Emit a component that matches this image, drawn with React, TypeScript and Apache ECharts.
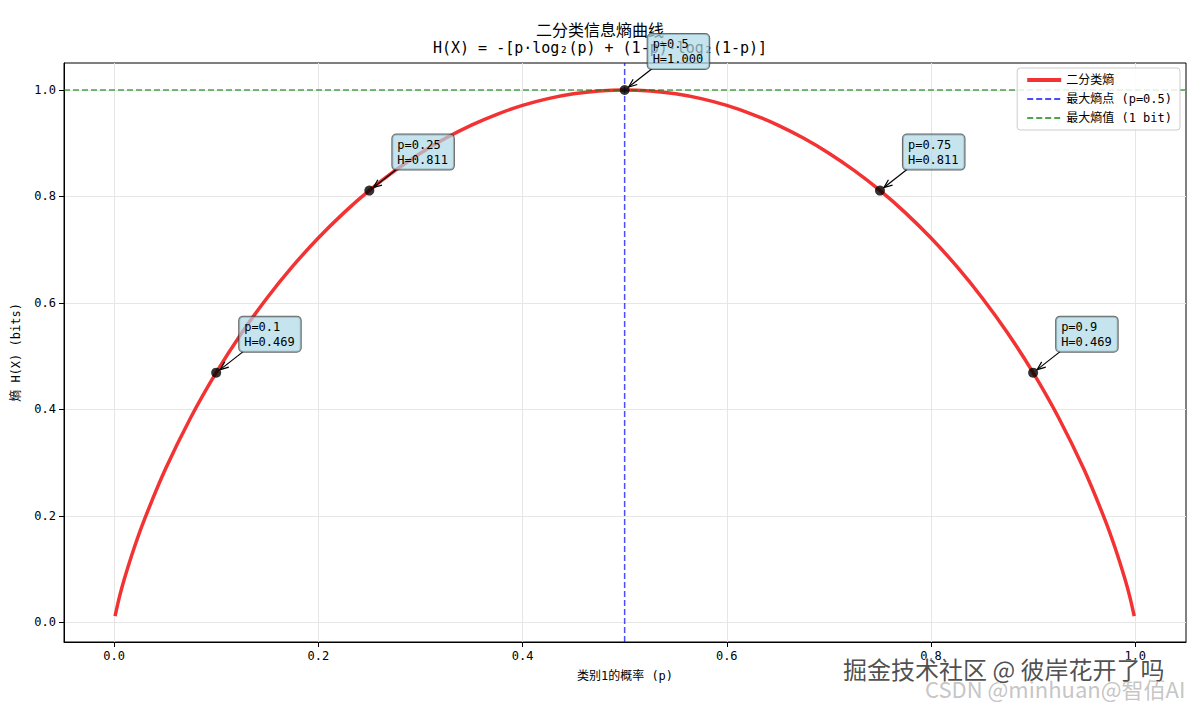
import React, { useEffect, useRef } from "react";
import * as echarts from "echarts";

// Binary entropy curve, values read/
const pValues = [
  0.001, 0.005, 0.01, 0.02, 0.03, 0.05, 0.075, 0.1, 0.125, 0.15, 0.175, 0.2, 0.225, 0.25,
  0.275, 0.3, 0.325, 0.35, 0.375, 0.4, 0.425, 0.45, 0.475, 0.5, 0.525, 0.55, 0.575, 0.6,
  0.625, 0.65, 0.675, 0.7, 0.725, 0.75, 0.775, 0.8, 0.825, 0.85, 0.875, 0.9, 0.925, 0.95,
  0.97, 0.98, 0.99, 0.995, 0.999,
];
const entropyValues = [
  0.0114, 0.0454, 0.0808, 0.1414, 0.1944, 0.2864, 0.3843, 0.469, 0.5436, 0.6098, 0.669,
  0.7219, 0.7692, 0.8113, 0.8485, 0.8813, 0.9097, 0.9341, 0.9544, 0.971, 0.9837, 0.9928,
  0.9982, 1.0, 0.9982, 0.9928, 0.9837, 0.971, 0.9544, 0.9341, 0.9097, 0.8813, 0.8485,
  0.8113, 0.7692, 0.7219, 0.669, 0.6098, 0.5436, 0.469, 0.3843, 0.2864, 0.1944, 0.1414,
  0.0808, 0.0454, 0.0114,
];

const markP = [0.1, 0.25, 0.5, 0.75, 0.9];
const markH = [0.469, 0.811, 1.0, 0.811, 0.469];
const markLabels = [
  "p=0.1\nH=0.469",
  "p=0.25\nH=0.811",
  "p=0.5\nH=1.000",
  "p=0.75\nH=0.811",
  "p=0.9\nH=0.469",
];

const maxEntropyP = 0.5;
const maxEntropyH = 1.0;

const xRange = [-0.049, 1.0497];
const yRange = [-0.037, 1.0507];
const xTicks = [0, 0.2, 0.4, 0.6, 0.8, 1.0];
const yTicks = [0, 0.2, 0.4, 0.6, 0.8, 1.0];

const seriesNames = ["二分类熵", "最大熵点 (p=0.5)", "最大熵值 (1 bit)"];
const titleText = "二分类信息熵曲线";
const subtitleText = "H(X) = -[p·log₂(p) + (1-p)·log₂(1-p)]";
const xName = "类别1的概率 (p)";
const yName = "熵 H(X) (bits)";
const watermark1 = "掘金技术社区 @ 彼岸花开了吗";
const watermark2 = "CSDN @minhuan@智佰AI";

const FONT = "'DejaVu Sans Mono', 'Noto Sans CJK SC', monospace";
const CJK = "'Noto Sans CJK SC', sans-serif";

export default function App() {
  const ref = useRef<HTMLDivElement>(null);

  useEffect(() => {
    if (!ref.current) return;
    const chart = echarts.init(ref.current, null, { renderer: "svg" });

    const curve = pValues.map((p, i) => [p, entropyValues[i]]);
    const vLine = [
      [maxEntropyP, yRange[0]],
      [maxEntropyP, yRange[1]],
    ];
    const hLine = [
      [xRange[0], maxEntropyH],
      [xRange[1], maxEntropyH],
    ];
    const pts = markP.map((p, i) => [p, markH[i]]);

    chart.setOption({
      animation: false,
      backgroundColor: "#fff",
      title: {
        text: titleText,
        subtext: subtitleText,
        left: "center",
        top: 21,
        itemGap: 3,
        padding: 0,
        textStyle: { fontFamily: CJK, fontSize: 16, fontWeight: "normal", color: "#000" },
        subtextStyle: { fontFamily: FONT, fontSize: 15, color: "#000" },
      },
      legend: {
        data: [
          { name: seriesNames[0], lineStyle: { width: 4 } },
          { name: seriesNames[1] },
          { name: seriesNames[2] },
        ],
        orient: "vertical",
        right: 20,
        top: 68,
        itemWidth: 34,
        itemHeight: 12,
        itemGap: 7,
        padding: [6, 8, 6, 8],
        borderColor: "#ccc",
        borderWidth: 1,
        borderRadius: 3,
        backgroundColor: "rgba(255,255,255,0.85)",
        itemStyle: { opacity: 0, borderWidth: 0 },
        textStyle: { fontFamily: FONT, fontSize: 12, color: "#000" },
      },
      grid: {
        left: 64,
        right: 14,
        top: 63,
        bottom: 64,
        show: true,
        borderColor: "#000",
        borderWidth: 1,
        backgroundColor: "transparent",
      },
      xAxis: {
        type: "value",
        min: xRange[0],
        max: xRange[1],
        name: xName,
        nameLocation: "middle",
        nameGap: 28,
        nameTextStyle: { fontFamily: FONT, fontSize: 12, color: "#000" },
        axisLine: { show: true, onZero: false, lineStyle: { color: "#000", width: 1 } },
        axisTick: { show: true, length: 5, customValues: xTicks, lineStyle: { color: "#000" } },
        axisLabel: {
          customValues: xTicks,
          formatter: (v: number) => v.toFixed(1),
          fontFamily: FONT,
          fontSize: 12,
          color: "#000",
          margin: 8,
        },
        splitLine: { show: true, lineStyle: { color: "#e6e6e6", width: 1 } },
      },
      yAxis: {
        type: "value",
        min: yRange[0],
        max: yRange[1],
        name: yName,
        nameLocation: "middle",
        nameGap: 42,
        nameTextStyle: { fontFamily: FONT, fontSize: 12, color: "#000" },
        axisLine: { show: true, onZero: false, lineStyle: { color: "#000", width: 1 } },
        axisTick: { show: true, length: 5, customValues: yTicks, lineStyle: { color: "#000" } },
        axisLabel: {
          customValues: yTicks,
          formatter: (v: number) => v.toFixed(1),
          fontFamily: FONT,
          fontSize: 12,
          color: "#000",
          margin: 8,
        },
        splitLine: { show: true, lineStyle: { color: "#e6e6e6", width: 1 } },
      },
      series: [
        {
          name: seriesNames[0],
          type: "line",
          data: curve,
          smooth: 0.3,
          symbol: "none",
          lineStyle: { color: "rgba(240,0,0,0.8)", width: 3.5 },
          itemStyle: { color: "rgba(240,0,0,0.8)" },
          z: 2,
        },
        {
          name: seriesNames[1],
          type: "line",
          data: vLine,
          symbol: "none",
          lineStyle: { color: "rgba(0,0,255,0.7)", width: 1.5, type: [6, 3] },
          itemStyle: { color: "rgba(0,0,255,0.7)" },
          z: 3,
        },
        {
          name: seriesNames[2],
          type: "line",
          data: hLine,
          symbol: "none",
          lineStyle: { color: "rgba(0,128,0,0.7)", width: 1.5, type: [6, 3] },
          itemStyle: { color: "rgba(0,128,0,0.7)" },
          z: 3,
        },
        {
          name: "points",
          type: "scatter",
          data: pts,
          symbol: "circle",
          symbolSize: 10,
          itemStyle: { color: "#000" },
          z: 5,
        },
      ],
    });

    const g: any[] = [];
    pts.forEach((pt, i) => {
      const [px, py] = chart.convertToPixel({ gridIndex: 0 }, pt) as number[];
      const sx = px + 27;
      const sy = py - 21;
      const ex = px + 4;
      const ey = py - 3;
      const ang = Math.atan2(ey - sy, ex - sx);
      const L = 9;
      const a = 0.38;
      g.push({
        type: "line",
        shape: { x1: sx, y1: sy, x2: ex, y2: ey },
        style: { stroke: "#000", lineWidth: 1.2 },
        z: 100,
      });
      g.push({
        type: "polyline",
        shape: {
          points: [
            [ex - L * Math.cos(ang - a), ey - L * Math.sin(ang - a)],
            [ex, ey],
            [ex - L * Math.cos(ang + a), ey - L * Math.sin(ang + a)],
          ],
        },
        style: { stroke: "#000", fill: null, lineWidth: 1.2 },
        z: 100,
      });
      g.push({
        type: "text",
        x: px + 23,
        y: py - 21,
        style: {
          text: markLabels[i],
          fontFamily: FONT,
          fontSize: 12,
          lineHeight: 15,
          fill: "#000",
          align: "left",
          verticalAlign: "bottom",
          backgroundColor: "rgba(173,216,230,0.7)",
          borderColor: "rgba(40,40,40,0.7)",
          borderWidth: 1,
          borderRadius: 4,
          padding: [3, 6, 2, 5],
        },
        z: 101,
      });
    });
    g.push({
      type: "text",
      x: 925,
      y: 688,
      style: {
        text: watermark2,
        fontFamily: CJK,
        fontSize: 22,
        fill: "rgba(190,190,190,0.9)",
        align: "left",
        verticalAlign: "middle",
      },
      z: 200,
    });
    g.push({
      type: "text",
      x: 843,
      y: 668,
      style: {
        text: watermark1,
        fontFamily: CJK,
        fontSize: 24,
        fill: "rgba(70,70,70,0.95)",
        stroke: "#fff",
        lineWidth: 1,
        align: "left",
        verticalAlign: "middle",
      },
      z: 201,
    });
    chart.setOption({ graphic: g });

    return () => chart.dispose();
  }, []);

  return (
    <div
      ref={ref}
      style={{ position: "fixed", left: 0, top: 0, width: 1200, height: 706, background: "#fff" }}
    />
  );
}
